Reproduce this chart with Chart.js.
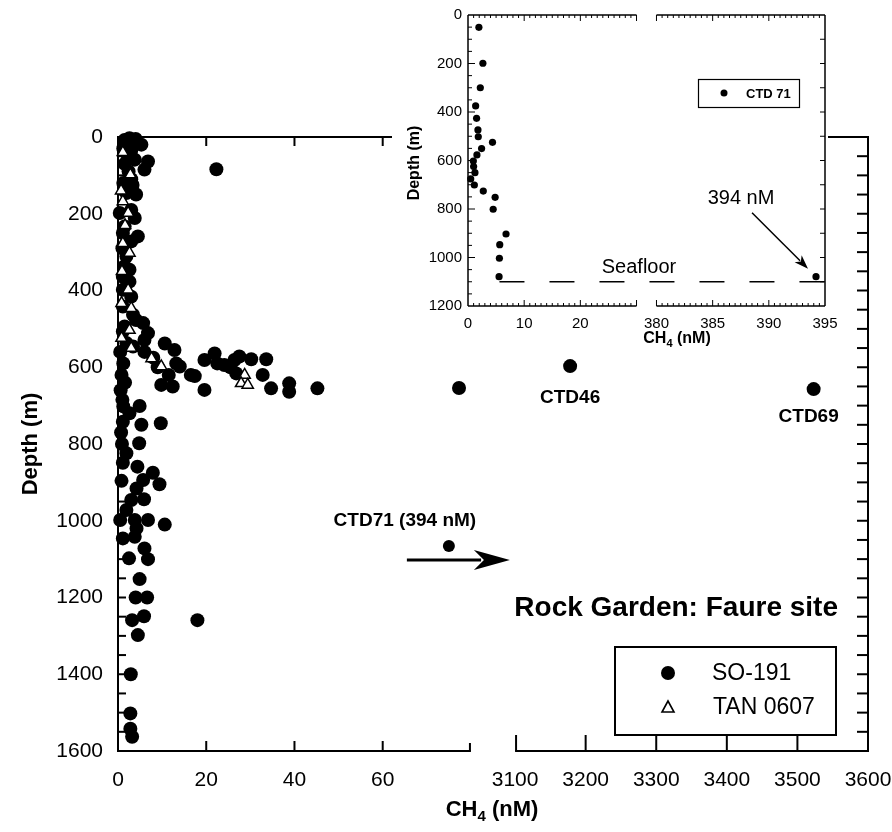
<!DOCTYPE html>
<html>
<head>
<meta charset="utf-8">
<title>Rock Garden: Faure site – CH4 profiles</title>
<script src="https://cdn.jsdelivr.net/npm/chart.js@4.4.1/dist/chart.umd.min.js"></script>
<style>
  html, body { margin: 0; padding: 0; background: #fff; }
  #wrap { position: relative; width: 892px; height: 832px; overflow: hidden; }
  #main { position: absolute; left: 0; top: 0; }
  #inset { position: absolute; left: 392px; top: 0; }
</style>
</head>
<body>
<div id="wrap">
  <canvas id="main" width="892" height="832"></canvas>
  <canvas id="inset" width="450" height="352"></canvas>
</div>
<script>
// ---------------- data ----------------
// SO-191 water column samples (CH4 nM, depth m)
const so191Ch4 = [
  2.6, 1.5, 4.0, 5.3, 1.2, 3.0, 1.9, 3.8, 6.8, 1.5, 6.0, 2.4, 22.3, 3.0, 1.2, 3.3, 4.1, 1.9, 3.0, 0.4,
  3.8, 1.5, 1.1, 4.5, 3.0, 1.0, 1.9, 1.5, 2.6, 1.1, 2.6, 1.1, 3.0, 1.1, 3.4, 4.1, 5.7, 1.5, 1.1, 6.8,
  6.0, 1.9, 3.4, 10.6, 12.8, 13.2, 14.0, 9.8, 12.4, 17.4, 19.6, 21.9, 19.6, 24.1, 26.4, 27.5, 30.2, 33.6, 32.8, 34.7,
  38.8, 38.8, 45.2, 26.8, 9.0, 11.5, 16.5, 22.5, 25.5, 8.0, 6.0, 0.5, 1.2, 0.8, 1.6, 0.6, 1.0, 77.3,
  4.9, 1.2, 2.6, 5.3, 9.7, 1.1, 0.7, 4.8, 0.9, 1.9, 1.1, 4.4, 7.9, 0.8, 5.7, 9.4, 4.2, 3.0, 5.9, 1.9,
  0.5, 3.8, 6.8, 10.6, 4.2, 1.1, 3.8, 6.0, 2.5, 6.8, 4.9, 4.0, 6.6, 5.9, 3.2, 18.0, 4.5, 2.9, 2.8, 2.8, 3.2
];
const so191Depth = [
  3, 8, 5, 20, 30, 35, 42, 59, 64, 70, 85, 90, 84, 110, 120, 125, 150, 146, 190, 198,
  211, 233, 250, 259, 272, 290, 311, 337, 346, 364, 377, 398, 416, 442, 463, 477, 485, 494, 507, 511,
  529, 537, 546, 538, 555, 590, 598, 646, 650, 623, 581, 564, 659, 594, 581, 572, 579, 579, 620, 655,
  642, 664, 655, 616, 600, 620, 620, 590, 600, 575, 560, 560, 590, 620, 640, 660, 685, 654,
  701, 702, 720, 750, 746, 742, 770, 798, 800, 824, 849, 859, 875, 896, 894, 905, 916, 946, 944, 972,
  998, 998, 998, 1010, 1020, 1046, 1042, 1072, 1098, 1100, 1152, 1200, 1200, 1249, 1259, 1259, 1298, 1400, 1502, 1542, 1563
];
// labelled SO-191 stations with very high CH4
const stationNames = ['CTD46', 'CTD69'];
const stationCh4 = [3178, 3523];
const stationDepth = [597, 657];
// CTD71 bottom-water sample, off the main scale
const ctd71Ch4 = 394;
const ctd71Depth = 1066;
// TAN 0607 samples
const tanCh4 = [1.1, 2.8, 0.7, 1.1, 2.3, 1.6, 1.1, 2.6, 0.9, 2.3, 0.8, 3.0, 2.6, 0.8, 3.0, 7.6, 9.8, 28.7, 27.9, 29.4];
const tanDepth = [40, 98, 140, 168, 198, 230, 277, 302, 350, 398, 433, 446, 503, 524, 550, 577, 598, 620, 642, 646];
// tick labels of the broken CH4 axis
const mainXTicks = [0, 20, 40, 60, 3100, 3200, 3300, 3400, 3500, 3600];

// CTD 71 profile (inset)
const insetCh4 = [1.94, 2.65, 2.19, 1.36, 1.53, 1.77, 1.83, 4.36, 2.42, 1.59, 0.95, 1.0, 1.24, 0.48, 1.13, 2.72, 4.83, 4.48, 6.77, 5.65, 5.59, 5.53, 394.2];
const insetDepth = [51, 199, 300, 375, 426, 474, 502, 525, 551, 577, 602, 625, 650, 676, 701, 726, 752, 801, 903, 947, 1003, 1079, 1079];
const insetXTicks = [0, 10, 20, 380, 385, 390, 395];
const seafloorDepth = 1100;
const seafloorCh4 = [5.6, 395];

// ---------------- helpers ----------------
const FONT = "'Liberation Sans', Arial, Helvetica, sans-serif";

// main CH4 axis: 0–80 nM, a break, then 3100–3600 nM (same width)
const M_LEFT_MAX = 80, M_GAP = 10, M_RIGHT_MIN = 3100, M_RIGHT_K = 80 / 500;
const M_OFFSCALE = 75; // values inside the break sit at the right end of the low segment
function mainU(v) {
  if (v <= M_LEFT_MAX) return v;
  if (v >= M_RIGHT_MIN) return M_LEFT_MAX + M_GAP + (v - M_RIGHT_MIN) * M_RIGHT_K;
  return M_OFFSCALE;
}
// inset CH4 axis: 0–30 nM, a break, then 380–395 nM
const I_LEFT_MAX = 30, I_GAP = 3.55, I_RIGHT_MIN = 380, I_RIGHT_K = 2;
function insetU(v) {
  if (v <= I_LEFT_MAX) return v;
  return I_LEFT_MAX + I_GAP + (v - I_RIGHT_MIN) * I_RIGHT_K;
}
function pts(xs, ys, f) { return xs.map((v, i) => ({ x: f(v), y: ys[i] })); }
function seg(ctx, x0, y0, x1, y1) { ctx.beginPath(); ctx.moveTo(x0, y0); ctx.lineTo(x1, y1); ctx.stroke(); }
function arrow(ctx, x0, y0, x1, y1, headLen, headHalf, lw) {
  const ang = Math.atan2(y1 - y0, x1 - x0), c = Math.cos(ang), s = Math.sin(ang);
  const bx = x1 - c * headLen * 0.8, by = y1 - s * headLen * 0.8;
  ctx.lineWidth = lw;
  seg(ctx, x0, y0, bx, by);
  ctx.beginPath();
  ctx.moveTo(x1, y1);
  ctx.lineTo(x1 - c * headLen - s * headHalf, y1 - s * headLen + c * headHalf);
  ctx.lineTo(x1 - c * headLen * 0.72, y1 - s * headLen * 0.72);
  ctx.lineTo(x1 - c * headLen + s * headHalf, y1 - s * headLen - c * headHalf);
  ctx.closePath();
  ctx.fill();
}
// "CH4 (nM)" with subscript 4, centred on (cx, cy)
function ch4Title(ctx, cx, cy, size) {
  const big = `bold ${size}px ${FONT}`, small = `bold ${Math.round(size * 0.68)}px ${FONT}`;
  ctx.font = big; const w1 = ctx.measureText('CH').width; const w3 = ctx.measureText(' (nM)').width;
  ctx.font = small; const w2 = ctx.measureText('4').width;
  let x = cx - (w1 + w2 + w3) / 2;
  ctx.textAlign = 'left'; ctx.textBaseline = 'middle';
  ctx.font = big; ctx.fillText('CH', x, cy); x += w1;
  ctx.font = small; ctx.fillText('4', x, cy + size * 0.33); x += w2;
  ctx.font = big; ctx.fillText(' (nM)', x, cy);
}
// keep the plot area fixed: no extra room for the outer tick labels
function noEdgePad(s) { s.paddingLeft = 0; s.paddingRight = 0; s.paddingTop = 0; s.paddingBottom = 0; }

// ---------------- main chart ----------------
const mainFrame = {
  id: 'mainFrame',
  beforeDatasetsDraw(chart) {
    const { ctx, chartArea: a, scales: { x, y } } = chart;
    ctx.save();
    ctx.strokeStyle = '#000'; ctx.lineWidth = 2;
    const l0 = x.getPixelForValue(mainU(0)), l1 = x.getPixelForValue(mainU(M_LEFT_MAX));
    const r0 = x.getPixelForValue(mainU(M_RIGHT_MIN)), r1 = x.getPixelForValue(mainU(3600));
    seg(ctx, l0, a.top, l0, a.bottom + 1);
    seg(ctx, r1, a.top - 1, r1, a.bottom + 1);
    seg(ctx, l0 - 1, a.bottom, l1, a.bottom);
    seg(ctx, r0, a.bottom, r1 + 1, a.bottom);
    seg(ctx, l0 - 1, a.top, l1, a.top);
    seg(ctx, r0, a.top, r1 + 1, a.top);
    for (let d = 50; d < 1600; d += 50) {
      const py = y.getPixelForValue(d);
      seg(ctx, l0, py, l0 + 8, py);
      seg(ctx, r1, py, r1 - 11, py);
    }
    [20, 40, 60].forEach(v => {
      const px = x.getPixelForValue(mainU(v));
      seg(ctx, px, a.bottom, px, a.bottom - 10);
      seg(ctx, px, a.top, px, a.top + 9);
    });
    seg(ctx, l1 - 1, a.bottom, l1 - 1, a.bottom - 8);
    [3100, 3200, 3300, 3400, 3500].forEach(v => {
      const px = x.getPixelForValue(mainU(v)) + (v === 3100 ? 1 : 0);
      seg(ctx, px, a.bottom, px, a.bottom - 16);
      seg(ctx, px, a.top, px, a.top + 12);
    });
    ctx.restore();
  }
};

const mainNotes = {
  id: 'mainNotes',
  afterDraw(chart) {
    const { ctx, scales: { x, y } } = chart;
    ctx.save();
    ctx.fillStyle = '#000'; ctx.strokeStyle = '#000';
    // axis titles
    ctx.font = `bold 22px ${FONT}`; ctx.textAlign = 'center'; ctx.textBaseline = 'middle';
    ctx.save(); ctx.translate(31, 444); ctx.rotate(-Math.PI / 2); ctx.fillText('Depth (m)', 0, 0); ctx.restore();
    ch4Title(ctx, 492, 810, 22);

    // station labels under their points
    const offs = [[0, 32], [-5, 28]];
    ctx.font = `bold 19px ${FONT}`; ctx.textAlign = 'center'; ctx.textBaseline = 'middle';
    stationNames.forEach((n, i) => {
      const px = x.getPixelForValue(mainU(stationCh4[i])), py = y.getPixelForValue(stationDepth[i]);
      ctx.fillText(n, px + offs[i][0], py + offs[i][1]);
    });
    // CTD71: label and arrow pointing to the off-scale value
    const cx = x.getPixelForValue(mainU(ctd71Ch4)), cy = y.getPixelForValue(ctd71Depth);
    ctx.fillText(`CTD71 (${ctd71Ch4} nM)`, cx - 44, cy - 25);
    arrow(ctx, cx - 42, cy + 14, cx + 61, cy + 14, 36, 10, 3);

    // site name
    ctx.font = `bold 28px ${FONT}`; ctx.textAlign = 'right';
    ctx.fillText('Rock Garden: Faure site', 838, 608);

    // legend
    ctx.lineWidth = 2;
    ctx.strokeRect(615, 647, 221, 88);
    ctx.beginPath(); ctx.arc(668, 673, 7, 0, Math.PI * 2); ctx.fill();
    ctx.lineWidth = 1.6;
    ctx.beginPath(); ctx.moveTo(668, 701); ctx.lineTo(662, 712); ctx.lineTo(674, 712); ctx.closePath(); ctx.stroke();
    ctx.font = `23px ${FONT}`; ctx.textAlign = 'left';
    ctx.fillText(chart.data.datasets[1].label, 712, 674);
    ctx.fillText(chart.data.datasets[0].label, 713, 708);
    ctx.restore();
  }
};

const dot = { pointStyle: 'circle', pointRadius: 7, pointBackgroundColor: '#000', pointBorderColor: '#000', pointBorderWidth: 0, clip: false };

new Chart(document.getElementById('main'), {
  type: 'scatter',
  data: {
    datasets: [
      { label: 'TAN 0607', data: pts(tanCh4, tanDepth, mainU), pointStyle: 'triangle', pointRadius: 6.5,
        pointBackgroundColor: '#fff', pointBorderColor: '#000', pointBorderWidth: 1.5, clip: false },
      Object.assign({ label: 'SO-191', data: pts(so191Ch4, so191Depth, mainU) }, dot),
      Object.assign({ label: 'SO-191 stations', data: pts(stationCh4, stationDepth, mainU) }, dot),
      Object.assign({ label: 'CTD71', data: [{ x: mainU(ctd71Ch4), y: ctd71Depth }] }, dot, { pointRadius: 6 })
    ]
  },
  options: {
    responsive: false, animation: false, devicePixelRatio: 1,
    layout: { padding: { left: 0, top: 137, right: 24, bottom: 0 } },
    plugins: { legend: { display: false }, tooltip: { enabled: false } },
    scales: {
      x: {
        type: 'linear', min: 0, max: mainU(3600),
        grid: { display: false, drawTicks: false }, border: { display: false },
        afterBuildTicks: s => { s.ticks = mainXTicks.map(v => ({ value: mainU(v) })); },
        afterFit: s => { s.height = 81; noEdgePad(s); },
        ticks: { autoSkip: false, maxRotation: 0, padding: 17, color: '#000',
                 font: { family: FONT, size: 21 }, callback: (v, i) => String(mainXTicks[i]) }
      },
      y: {
        type: 'linear', reverse: true, min: 0, max: 1600,
        grid: { display: false, drawTicks: false }, border: { display: false },
        afterFit: s => { s.width = 118; noEdgePad(s); },
        ticks: { stepSize: 200, padding: 15, color: '#000', font: { family: FONT, size: 21 },
                 callback: v => String(v) }
      }
    }
  },
  plugins: [mainFrame, mainNotes]
});

// ---------------- inset: CTD 71 ----------------
const insetFrame = {
  id: 'insetFrame',
  beforeDraw(chart) {
    // white panel behind the inset, ending just right of its frame
    const { ctx, chartArea: a } = chart;
    ctx.save(); ctx.fillStyle = '#fff';
    ctx.fillRect(0, 0, a.right + 3, chart.height);
    ctx.restore();
  },
  beforeDatasetsDraw(chart) {
    const { ctx, chartArea: a, scales: { x, y } } = chart;
    ctx.save();
    ctx.strokeStyle = '#000'; ctx.lineWidth = 1.5;
    const l0 = x.getPixelForValue(0), l1 = x.getPixelForValue(insetU(I_LEFT_MAX));
    const r0 = x.getPixelForValue(insetU(I_RIGHT_MIN)), r1 = x.getPixelForValue(insetU(395));
    seg(ctx, l0, a.top, l0, a.bottom);
    seg(ctx, r1, a.top, r1, a.bottom);
    seg(ctx, l0, a.top, l1, a.top); seg(ctx, l0, a.bottom, l1, a.bottom);
    seg(ctx, r0, a.top, r1, a.top); seg(ctx, r0, a.bottom, r1, a.bottom);
    ctx.lineWidth = 1;
    for (let d = 50; d < 1200; d += 50) {
      const py = y.getPixelForValue(d);
      seg(ctx, l0, py, l0 + (d % 200 === 0 ? 7 : 4), py);
      if (d % 100 === 0) seg(ctx, r1, py, r1 - 5, py);
    }
    for (let v = 1; v <= I_LEFT_MAX; v++) {
      const px = x.getPixelForValue(v), len = v % 10 === 0 ? 6 : 3;
      seg(ctx, px, a.top, px, a.top + len); seg(ctx, px, a.bottom, px, a.bottom - len);
    }
    for (let v = I_RIGHT_MIN; v < 395; v += 0.5) {
      const px = x.getPixelForValue(insetU(v)), len = v % 5 === 0 ? 6 : 3;
      seg(ctx, px, a.top, px, a.top + len); seg(ctx, px, a.bottom, px, a.bottom - len);
    }
    ctx.restore();
  }
};

const insetNotes = {
  id: 'insetNotes',
  afterDraw(chart) {
    const { ctx, scales: { x, y } } = chart;
    ctx.save();
    ctx.fillStyle = '#000'; ctx.strokeStyle = '#000';
    ctx.font = `bold 16px ${FONT}`; ctx.textAlign = 'center'; ctx.textBaseline = 'middle';
    ctx.save(); ctx.translate(23, 163); ctx.rotate(-Math.PI / 2); ctx.fillText('Depth (m)', 0, 0); ctx.restore();
    ch4Title(ctx, 285, 339, 16);

    // legend
    ctx.lineWidth = 1.2;
    ctx.strokeRect(306.5, 79.5, 101, 28);
    ctx.beginPath(); ctx.arc(332, 93, 3.5, 0, Math.PI * 2); ctx.fill();
    ctx.font = `bold 13px ${FONT}`; ctx.textAlign = 'left';
    ctx.fillText(chart.data.datasets[0].label, 354, 94);

    // seafloor label
    ctx.font = `20px ${FONT}`; ctx.textAlign = 'center';
    ctx.fillText('Seafloor', 247, 267);

    // deepest sample: value and arrow
    const n = insetCh4.length - 1;
    const px = x.getPixelForValue(insetU(insetCh4[n])), py = y.getPixelForValue(insetDepth[n]);
    ctx.fillText(`${Math.round(insetCh4[n])} nM`, px - 75, py - 78);
    arrow(ctx, px - 64, py - 64, px - 8, py - 8, 14, 5, 1.5);
    ctx.restore();
  }
};

new Chart(document.getElementById('inset'), {
  type: 'scatter',
  data: {
    datasets: [
      { label: 'CTD 71', data: pts(insetCh4, insetDepth, insetU), pointStyle: 'circle', pointRadius: 3.6,
        pointBackgroundColor: '#000', pointBorderWidth: 0, clip: false },
      { label: 'Seafloor', data: pts(seafloorCh4, [seafloorDepth, seafloorDepth], insetU), showLine: true,
        borderColor: '#000', borderWidth: 1.5, borderDash: [25, 25], pointRadius: 0, clip: false }
    ]
  },
  options: {
    responsive: false, animation: false, devicePixelRatio: 1,
    layout: { padding: { left: 0, top: 15, right: 17, bottom: 0 } },
    plugins: { legend: { display: false }, tooltip: { enabled: false } },
    scales: {
      x: {
        type: 'linear', min: 0, max: insetU(395),
        grid: { display: false, drawTicks: false }, border: { display: false },
        afterBuildTicks: s => { s.ticks = insetXTicks.map(v => ({ value: insetU(v) })); },
        afterFit: s => { s.height = 46; noEdgePad(s); },
        ticks: { autoSkip: false, maxRotation: 0, padding: 9, color: '#000',
                 font: { family: FONT, size: 15 }, callback: (v, i) => String(insetXTicks[i]) }
      },
      y: {
        type: 'linear', reverse: true, min: 0, max: 1200,
        grid: { display: false, drawTicks: false }, border: { display: false },
        afterFit: s => { s.width = 76; noEdgePad(s); },
        ticks: { stepSize: 200, padding: 6, color: '#000', font: { family: FONT, size: 15 },
                 callback: v => String(v) }
      }
    }
  },
  plugins: [insetFrame, insetNotes]
});
</script>
</body>
</html>
